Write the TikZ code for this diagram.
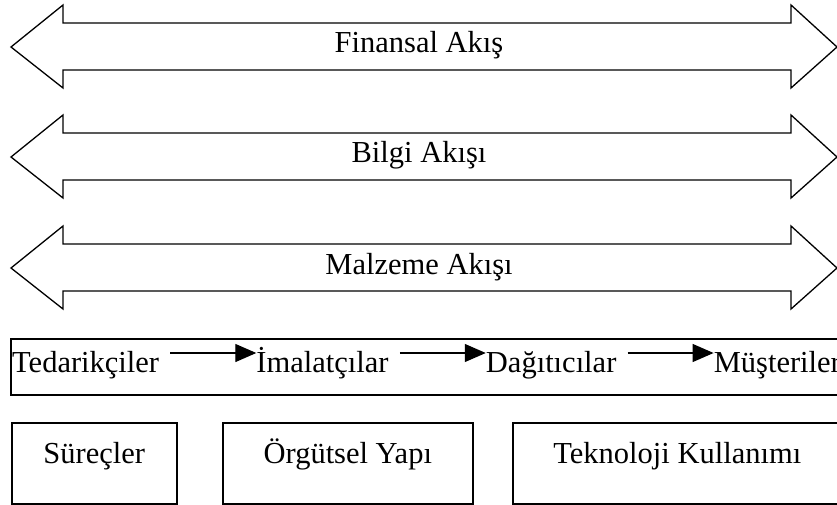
\documentclass[tikz,border=0pt]{standalone}
\usepackage{fontspec}
\setmainfont{Liberation Serif}
\usetikzlibrary{positioning, arrows.meta}
\tikzset{
    lbl/.style={font=\fontsize{30.5}{36}\selectfont, inner sep=0pt},
    bigarrow/.style={line width=1.3pt, line join=miter},
    flow/.style={line width=1.3pt, -{Triangle[length=21pt,width=18pt]}},
    kutu/.style={draw, line width=1.6pt, inner sep=0pt, text height=0pt, text depth=0pt,
        font=\fontsize{30.5}{36}\selectfont, anchor=north west, minimum height=81},
}

\begin{document}
\begin{tikzpicture}[x=1pt,y=-1pt]
                \useasboundingbox (0,0) rectangle (837,505);
                % akis oklari
                \foreach \c/\t/\n in {47/Finansal Akış/fin,157/Bilgi Akışı/bil,268/Malzeme Akışı/mal}{
                    \draw[bigarrow] (11,\c) -- (63,\c-42) -- (63,\c-24) -- (791,\c-24) -- (791,\c-42)
                        -- (837,\c) -- (791,\c+41) -- (791,\c+23) -- (63,\c+23) -- (63,\c+41) -- cycle;
                    \node[lbl, anchor=base] (\n) at (419,\c+6) {\t};
                }
                % tedarik zinciri
                \node[draw, line width=1.6pt, inner sep=0pt, minimum width=835, minimum height=56,
                    anchor=north west] (zincir) at (10,338) {};
                \node[lbl, anchor=base west] (ted) at (12,372) {Tedarikçiler};
                \node[lbl, base right=97pt of ted] (ima) {İmalatçılar};
                \node[lbl, base right=97pt of ima] (dag) {Dağıtıcılar};
                \node[lbl, base right=97pt of dag] (mus) {Müşteriler};
                \foreach \a/\b in {ted/ima,ima/dag,dag/mus}{
                    \draw[flow] ([xshift=11pt,yshift=19pt]\a.base east) -- ([yshift=19pt]\b.base west);
                }
                % alt kutular
                \node[kutu, minimum width=165] (sur) at (11,422) {Süreçler};
                \node[kutu, minimum width=250] (org) at (222,422) {Örgütsel Yapı};
                \node[kutu, minimum width=329] (tek) at (512,422) {Teknoloji Kullanımı};
            \end{tikzpicture}
\end{document}
